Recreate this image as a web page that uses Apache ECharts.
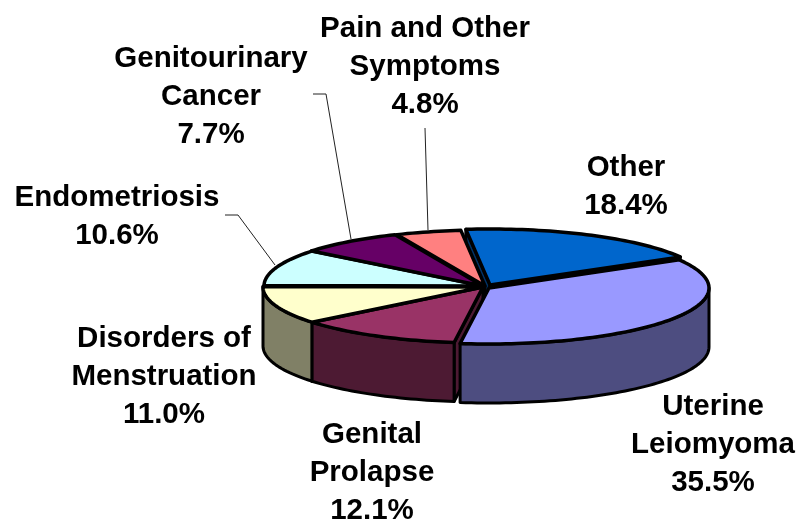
<!DOCTYPE html>
<html><head><meta charset="utf-8">
<style>html,body{margin:0;padding:0;background:#fff}#c{width:797px;height:522px}</style>
<script src="https://cdn.jsdelivr.net/npm/echarts@6/dist/echarts.min.js"></script>
</head><body><div id="c"></div>
<script>
const categories = ['Other','Uterine\nLeiomyoma','Genital\nProlapse','Disorders of\nMenstruation','Endometriosis','Genitourinary\nCancer','Pain and Other\nSymptoms'];
const shares = [18.4,35.5,12.1,11.0,10.6,7.7,4.8];
const topColors = ['#0066CC','#9999FF','#993366','#FFFFCC','#CCFFFF','#660066','#FF8080'];
const wallColors = ['#003366','#4D4D80','#4D1A33','#808066','#668080','#330033','#804040'];
// layout only
const pie = {cx:482, cy:287, a:220, b:56, depth:59, startDeg:-6.3};
const sliceShift = [[8,-2],[7,1],[1,0],[1,0],[2,-1],[1,-1],[3,-1]];
const labelAt = [[626,187],[713,445],[372,473],[164,377],[117,217],[211,97],[425,67]];
const leaders = [null,null,null,null,[[225,215],[238,215],[275,265]],[[313,94],[326,94],[351,239]],[[425,128],[428,230]]];

const total = shares.reduce((s,v)=>s+v,0);
const rad = d => d*Math.PI/180;
function arcPts(c,d0,d1,dy){
  const n=Math.max(2,Math.ceil(Math.abs(d1-d0)/1.5)), p=[];
  for(let i=0;i<=n;i++){const t=rad(d0+(d1-d0)*i/n);p.push([c[0]+pie.a*Math.sin(t),c[1]-pie.b*Math.cos(t)+dy]);}
  return p;
}
function renderItem(params,api){
  const i=api.value(0);
  let before=0; for(let k=0;k<i;k++) before+=shares[k];
  const d0=pie.startDeg+before/total*360, d1=d0+api.value(1)/total*360;
  const c=[pie.cx+sliceShift[i][0],pie.cy+sliceShift[i][1]];
  const kids=[];
  const wallStyle={fill:wallColors[i],stroke:'#000',lineWidth:3,lineJoin:'round'};
  const face=(deg,z)=>{
    const t=rad(deg), r=[c[0]+pie.a*Math.sin(t),c[1]-pie.b*Math.cos(t)];
    kids.push({type:'polygon',z2:z,shape:{points:[c,r,[r[0],r[1]+pie.depth],[c[0],c[1]+pie.depth]]},style:wallStyle});
  };
  if(Math.sin(rad(d0))<0) face(d0,i===2?3:1);
  if(Math.sin(rad(d1))>0) face(d1,1);
  const w0=Math.max(d0,90), w1=Math.min(d1,270);
  if(w1>w0){
    const top=arcPts(c,w0,w1,0), bot=arcPts(c,w1,w0,pie.depth);
    kids.push({type:'polygon',z2:4,shape:{points:top.concat(bot)},style:wallStyle});
  }
  kids.push({type:'polygon',z2:6,shape:{points:[c].concat(arcPts(c,d0,d1,0))},
    style:{fill:topColors[i],stroke:'#000',lineWidth:3.5,lineJoin:'round'}});
  if(leaders[i]) kids.push({type:'polyline',z2:7,shape:{points:leaders[i]},style:{fill:null,stroke:'#222',lineWidth:1}});
  kids.push({type:'text',z2:8,style:{text:categories[i]+'\n'+api.value(1).toFixed(1)+'%',x:labelAt[i][0],y:labelAt[i][1],
    align:'center',verticalAlign:'middle',font:'bold 29.5px "Liberation Sans", Arial, sans-serif',lineHeight:38,fill:'#000'}});
  return {type:'group',children:kids};
}
const chart=echarts.init(document.getElementById('c'),null,{renderer:'canvas'});
chart.setOption({animation:false,backgroundColor:'#fff',
  series:[{type:'custom',coordinateSystem:'none',silent:true,clip:false,renderItem,
    data:shares.map((v,i)=>[i,v])}]});
</script></body></html>
